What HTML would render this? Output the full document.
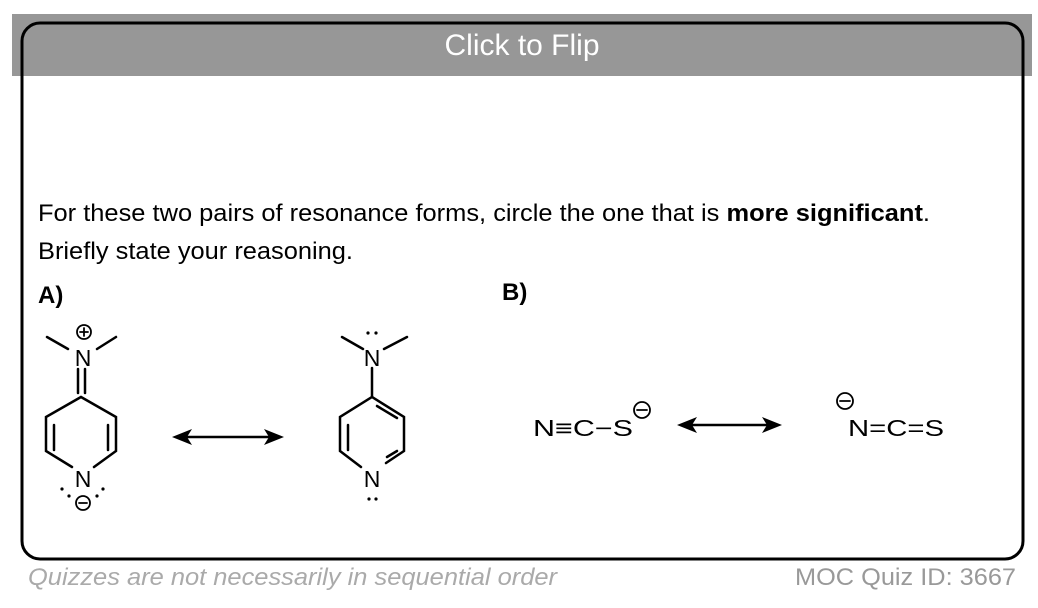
<!DOCTYPE html>
<html><head><meta charset="utf-8"><style>
body{margin:0;width:1038px;height:608px;background:#fff;overflow:hidden;font-family:"Liberation Sans",sans-serif;}
</style></head><body>
<svg width="1038" height="608" viewBox="0 0 1038 608" xmlns="http://www.w3.org/2000/svg" style="position:absolute;left:0;top:0">
<rect x="12" y="14" width="1020" height="62" fill="#979797"/>
<rect x="22" y="23" width="1001" height="536" rx="18" fill="none" stroke="#000" stroke-width="3"/>
<text x="522" y="55" font-size="30" fill="#fff" text-anchor="middle" font-family="Liberation Sans">Click to Flip</text>
<g font-family="Liberation Sans" font-size="24" fill="#000">
<text x="38" y="221" textLength="892" lengthAdjust="spacingAndGlyphs">For these two pairs of resonance forms, circle the one that is <tspan font-weight="bold">more significant</tspan>.</text>
<text x="38" y="259" textLength="315" lengthAdjust="spacingAndGlyphs">Briefly state your reasoning.</text>
<text x="38" y="303" font-weight="bold">A)</text>
<text x="502" y="300" font-weight="bold">B)</text>
</g>
<g stroke="#000" stroke-width="2.5" fill="none" stroke-linecap="round">
<line x1="47" y1="337" x2="68" y2="349"/><line x1="97" y1="349" x2="116" y2="337"/>
<line x1="78" y1="369" x2="78" y2="393"/><line x1="85" y1="369" x2="85" y2="393"/>
<polyline points="72,467 46,451 46,417 81,397 116,417 116,451 94,467"/>
<line x1="54" y1="425" x2="54" y2="450"/><line x1="108" y1="425" x2="108" y2="450"/>
<circle cx="84" cy="332" r="7" stroke-width="1.8"/>
<line x1="80" y1="332" x2="88" y2="332" stroke-width="1.8"/><line x1="84" y1="328" x2="84" y2="336" stroke-width="1.8"/>
<circle cx="83" cy="503" r="7" stroke-width="1.8"/><line x1="79" y1="503" x2="87" y2="503" stroke-width="1.8"/>
<line x1="342" y1="337" x2="363" y2="349"/><line x1="384" y1="349" x2="407" y2="337"/>
<line x1="372" y1="368" x2="372" y2="397"/>
<polyline points="361,467 340,451 340,417 372,397 404,417 404,451 386,463"/>
<line x1="348" y1="425" x2="348" y2="450"/>
<line x1="377" y1="406" x2="397" y2="418"/><line x1="387" y1="457" x2="397" y2="451"/>
<line x1="182" y1="437" x2="274" y2="437"/>
<line x1="687" y1="425" x2="772" y2="425"/>
<circle cx="642" cy="410" r="8" stroke-width="1.8"/><line x1="637" y1="410" x2="647" y2="410" stroke-width="1.8"/>
<circle cx="845" cy="401" r="8" stroke-width="1.8"/><line x1="840" y1="401" x2="850" y2="401" stroke-width="1.8"/>
</g>
<g fill="#000">
<polygon points="172,437 192,429 187,437 192,445"/><polygon points="284,437 264,429 269,437 264,445"/>
<polygon points="677,425 697,417 692,425 697,433"/><polygon points="782,425 762,417 767,425 762,433"/>
<circle cx="62" cy="489" r="1.6"/><circle cx="69" cy="496" r="1.6"/><circle cx="97" cy="496" r="1.6"/><circle cx="103" cy="489" r="1.6"/>
<circle cx="368" cy="333" r="1.6"/><circle cx="376" cy="333" r="1.6"/>
<circle cx="369" cy="499" r="1.6"/><circle cx="376" cy="499" r="1.6"/>
</g>
<g font-family="Liberation Sans" font-size="23" fill="#000" text-anchor="middle">
<text x="83" y="366">N</text>
<text x="83" y="487">N</text>
<text x="372" y="366">N</text>
<text x="372" y="487">N</text>
</g>
<g font-family="Liberation Sans" font-size="23" fill="#000">
<text x="533" y="436" textLength="100" lengthAdjust="spacingAndGlyphs">N≡C−S</text>
<text x="848" y="436" textLength="96" lengthAdjust="spacingAndGlyphs">N=C=S</text>
</g>
<text x="28" y="585" font-family="Liberation Sans" font-size="24" font-style="italic" fill="#aaa" textLength="529" lengthAdjust="spacingAndGlyphs">Quizzes are not necessarily in sequential order</text>
<text x="795" y="585" font-family="Liberation Sans" font-size="24" fill="#999" textLength="221" lengthAdjust="spacingAndGlyphs">MOC Quiz ID: 3667</text>
</svg>
</body></html>
